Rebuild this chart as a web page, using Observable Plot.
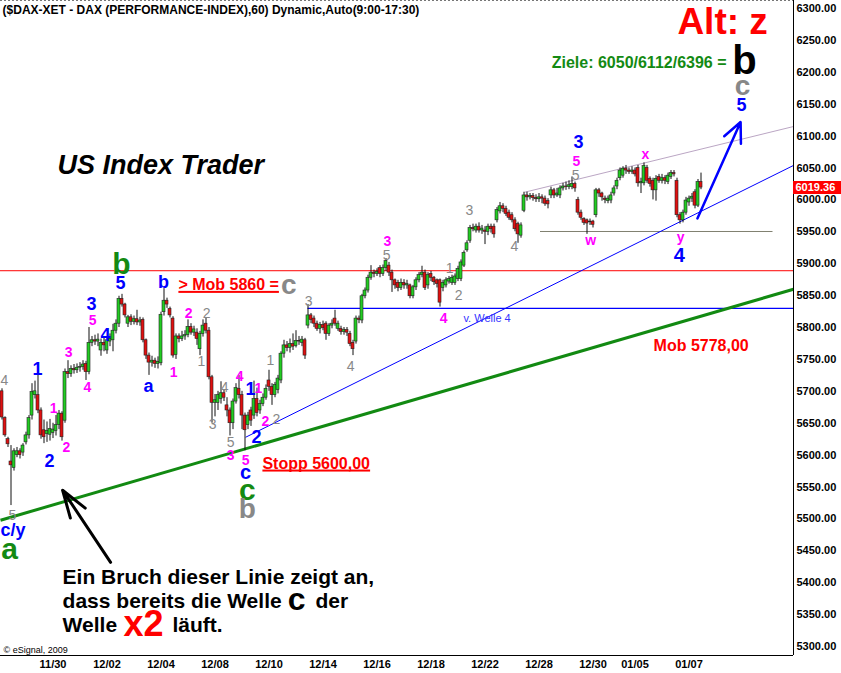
<!DOCTYPE html>
<html><head><meta charset="utf-8">
<script src="https://cdn.jsdelivr.net/npm/d3@7"></script>
<script src="https://cdn.jsdelivr.net/npm/@observablehq/plot@0.6"></script>
<style>
html,body{margin:0;padding:0;background:#fff;}
#chart svg{display:block;}
</style></head><body><div id="chart"></div>
<script>
// ---------- DATA ----------
const dayNames = ["11/26","11/27","11/30","12/01","12/02","12/03","12/04","12/07","12/08","12/09","12/10","12/11","12/14","12/15","12/16","12/17","12/18","12/21","12/22","12/23","12/28","12/29","12/30","01/04","01/05","01/06","01/07"];
const dayBarCounts = [8,9,9,9,9,9,9,9,9,9,9,9,9,9,9,9,9,9,9,9,9,9,5,9,9,9,5];
const tickDays = ["11/30","12/02","12/04","12/08","12/10","12/14","12/16","12/18","12/22","12/28","12/30","01/05","01/07"];
const yTicks = [5300,5350,5400,5450,5500,5550,5600,5650,5700,5750,5800,5850,5900,5950,6000,6050,6100,6150,6200,6250,6300];

const open = [
5700,5658,5625,5590,5580,5600,5606,5604,5620,5631,
5662,5694,5694,5670,5639,5633,5632,5635,5638,5647,
5665,5654,5730,5727,5735,5733,5737,5738,5743,5730,
5776,5780,5778,5764,5776,5764,5778,5780,5795,5806,
5845,5836,5806,5816,5809,5813,5808,5812,5780,5756,
5745,5748,5743,5744,5824,5842,5829,5814,5757,5786,
5782,5786,5788,5801,5792,5792,5766,5790,5806,5795,
5722,5682,5682,5688,5697,5678,5670,5650,5684,5704,
5694,5662,5647,5670,5662,5688,5670,5680,5690,5717,
5707,5694,5702,5717,5759,5772,5768,5774,5771,5779,
5776,5780,5803,5819,5814,5806,5798,5804,5806,5790,
5803,5814,5798,5798,5793,5796,5790,5776,5778,5814,
5811,5849,5858,5878,5886,5884,5893,5884,5893,5897,
5886,5874,5870,5862,5870,5866,5866,5849,5863,5874,
5882,5886,5866,5884,5878,5874,5874,5862,5866,5872,
5870,5870,5876,5876,5897,5921,5936,5956,5952,5958,
5952,5952,5950,5958,5958,5968,5982,5990,5986,5980,
5976,5968,5962,5944,5983,6007,6004,6006,6003,6001,
6004,6002,5998,6007,6015,6007,6007,6018,6021,6020,
6020,6025,6000,5980,5970,5968,5966,5966,5976,6015,
6010,6002,5998,5999,6010,6021,6034,6038,6049,6046,
6044,6046,6050,6026,6026,6050,6033,6030,6015,6036,
6030,6034,6028,6036,6042,6030,5976,5968,5980,5996,
6002,6012,5991,6028];
const high = [
5704,5660,5628,5615,5610,5612,5610,5618,5636,5662,
5712,5716,5727,5674,5655,5652,5656,5650,5662,5670,
5668,5735,5748,5740,5742,5743,5745,5748,5747,5800,
5786,5788,5790,5782,5786,5784,5790,5805,5812,5849,
5852,5838,5819,5820,5818,5827,5816,5815,5782,5760,
5755,5752,5754,5824,5861,5846,5832,5817,5790,5790,
5794,5795,5812,5806,5802,5798,5794,5812,5815,5800,
5725,5695,5700,5715,5702,5690,5674,5688,5712,5725,
5700,5666,5667,5675,5716,5705,5686,5696,5710,5733,
5712,5714,5725,5762,5780,5778,5782,5790,5795,5786,
5786,5783,5836,5822,5818,5810,5808,5810,5809,5806,
5812,5827,5810,5802,5800,5800,5794,5780,5818,5818,
5852,5862,5882,5897,5890,5892,5897,5898,5908,5902,
5890,5876,5874,5876,5875,5874,5868,5866,5878,5886,
5896,5890,5886,5888,5880,5876,5876,5874,5878,5880,
5882,5884,5896,5906,5920,5936,5960,5962,5962,5964,
5960,5958,5962,5962,5962,5988,5996,5994,5990,5984,
5980,5972,5965,5964,6012,6012,6010,6010,6008,6010,
6008,6006,6002,6020,6018,6018,6022,6026,6028,6030,
6036,6028,6004,5984,5972,5970,5970,5968,6018,6018,
6012,6006,6006,6012,6022,6034,6050,6052,6054,6050,
6052,6050,6054,6034,6058,6054,6036,6034,6038,6040,
6040,6038,6042,6046,6046,6034,5980,5984,6004,6006,
6010,6016,6032,6042];
const low = [
5655,5628,5612,5521,5575,5596,5594,5598,5616,5625,
5655,5688,5665,5625,5618,5620,5622,5626,5630,5640,
5622,5650,5720,5722,5727,5728,5730,5733,5717,5726,
5770,5772,5770,5755,5762,5758,5770,5762,5790,5800,
5832,5815,5800,5803,5804,5803,5802,5776,5750,5725,
5738,5736,5735,5740,5818,5830,5815,5752,5750,5776,
5778,5780,5784,5788,5786,5772,5756,5785,5790,5718,
5650,5660,5670,5680,5684,5660,5630,5640,5680,5688,
5640,5607,5640,5645,5656,5660,5664,5676,5686,5700,
5678,5690,5696,5712,5752,5762,5760,5764,5768,5772,
5770,5750,5798,5806,5800,5794,5790,5795,5780,5786,
5798,5802,5794,5788,5788,5786,5770,5756,5774,5806,
5806,5845,5854,5874,5878,5880,5878,5880,5888,5880,
5855,5860,5856,5858,5860,5860,5845,5845,5858,5870,
5878,5858,5860,5872,5866,5862,5832,5856,5862,5868,
5866,5866,5872,5872,5894,5918,5932,5950,5948,5948,
5946,5930,5944,5948,5940,5964,5978,5980,5974,5968,
5964,5950,5932,5940,5980,5998,6000,5998,5996,5996,
5994,5990,5986,6002,6002,6004,6002,6014,6015,6016,
6016,6012,5976,5968,5960,5946,5960,5956,5972,6004,
5998,5994,5994,5994,6006,6016,6030,6034,6040,6040,
6040,6036,6020,6010,6022,6026,6020,6000,5998,6026,
6025,6024,6024,6032,6036,5972,5962,5964,5976,5990,
5996,5986,5988,6016];
const close = [
5659,5631,5617,5584,5606,5606,5600,5615,5631,5658,
5699,5700,5670,5631,5628,5638,5641,5640,5647,5665,
5628,5730,5727,5735,5733,5737,5738,5742,5730,5776,
5780,5778,5781,5776,5772,5780,5782,5795,5806,5845,
5836,5819,5816,5809,5813,5808,5811,5780,5756,5745,
5748,5743,5746,5820,5842,5836,5819,5756,5786,5782,
5786,5788,5801,5792,5797,5782,5790,5803,5795,5722,
5682,5686,5694,5697,5690,5670,5650,5684,5705,5694,
5662,5639,5662,5654,5688,5666,5680,5690,5704,5707,
5694,5710,5720,5759,5772,5768,5774,5770,5779,5778,
5781,5756,5819,5812,5806,5798,5804,5799,5790,5803,
5806,5806,5806,5793,5796,5792,5774,5766,5814,5812,
5849,5858,5878,5886,5884,5887,5884,5893,5904,5886,
5874,5866,5862,5870,5866,5868,5849,5863,5874,5882,
5886,5862,5882,5878,5871,5868,5839,5870,5874,5876,
5878,5880,5892,5902,5917,5932,5956,5954,5958,5952,
5955,5950,5958,5954,5946,5984,5990,5986,5978,5972,
5968,5954,5946,5960,6007,6004,6006,6003,6001,6004,
6002,5994,5993,6015,6007,6010,6018,6021,6020,6023,
6025,6018,5980,5972,5964,5963,5965,5961,6015,6010,
6004,6000,6002,6007,6018,6030,6046,6049,6046,6044,
6046,6040,6026,6028,6053,6030,6025,6015,6033,6030,
6034,6030,6038,6042,6040,5976,5968,5980,5999,6002,
6005,5991,6028,6019.36];

// wave counts: [text, bar, price, degree]
const waveLabels = [
["1",11.8,5734,"minute"],["2",15.8,5590,"minute"],["3",29.8,5836,"minute"],["4",34.5,5788,"minute"],
["5",39.5,5869,"minute"],["a",48.8,5708,"minute"],["b",53.8,5871,"minute"],["1",82.8,5704,"minute"],
["2",84.8,5628,"minute"],["3",192.2,6090,"minute"],["5",246.5,6148,"minute"],
["1",17.2,5673,"minuette"],["2",21.5,5612,"minuette"],["3",22.2,5761,"minuette"],["4",28.5,5706,"minuette"],
["5",30.2,5811,"minuette"],["1",57.2,5730,"minuette"],["2",62.2,5822,"minuette"],["4",79.2,5723,"minuette"],
["1",85.5,5704,"minuette"],["2",87.8,5653,"minuette"],["3",76.2,5600,"minuette"],["5",81.2,5592,"minuette"],
["3",128.5,5935,"minuette"],["4",147.2,5814,"minuette"],["5",191.5,6060,"minuette"],["w",196.2,5936,"minuette"],
["x",214.5,6071,"minuette"],["y",226.2,5941,"minuette"],
["5",3.5,5506,"sub"],["1",66.5,5747,"sub"],["2",68.2,5822,"sub"],["3",70.2,5648,"sub"],
["4",74.2,5706,"sub"],["5",76.2,5620,"sub"],["1",89.5,5748,"sub"],["2",91.5,5656,"sub"],["3",102.2,5841,"sub"],
["4",116.2,5739,"sub"],["5",128.2,5913,"sub"],["1",149.2,5893,"sub"],["2",152.2,5850,"sub"],["3",155.8,5983,"sub"],
["4",170.8,5927,"sub"],["5",191.2,6038,"sub"],
["b",39.8,5899,"minor"],["c",81.8,5545,"minor"],["a",2.5,5452,"minor"],
["b",81.8,5516,"grayBig"],["c",95.6,5866,"grayBig"]
];
const edgeLabels = [["c/y",-0.5,5482,"minute"],["4",-0.5,5717,"sub"]];
const bigBlue = [["4",225.8,5913],["c",81.2,5573]];
const targetLabels = [["b",247.5,6218,"black"],["c",246.8,6178,"gray"]];

// trendlines: [name, bar1, price1, bar2, price2]
const trendLines = [
["support",-0.5,5498,263.83,5860],
["channel",81.2,5628,263.83,6054],
["upper",174.2,6012,263.83,6115]
];
// horizontal levels: [name, price, fromBar, toBar]
const levels = [
["mob",5889,-0.5,263.83],
["welle4",5830,102,263.83],
["wy",5950.5,179.5,257]
];
// arrows: [bar1, price1, bar2, price2]
const blueArrow = [[231.8,5971,246.2,6122]];
const blackArrow = [[36.2,5432,20.2,5545]];
const lastPrice = 6019.36;

// annotation texts [text, bar, price]
const notesTitle = [["($DAX-XET - DAX (PERFORMANCE-INDEX),60) Dynamic,Auto(9:00-17:30)",0.2,6298]];
const notesAlt = [["Alt: z",240.2,6278]];
const notesZiele = [["Ziele: 6050/6112/6396 =",241.5,6214]];
const notesBrand = [["US Index Trader",18.5,6054]];
const notesRedUnder = [["> Mob 5860 =",58.8,5867],["Stopp 5600,00",86.8,5587]];
const notesMob = [["Mob 5778,00",217.2,5772]];
const notesWelle = [["v. Welle 4",153.8,5814]];
const notesBottom = [["Ein Bruch dieser Linie zeigt an,",20.2,5408],["dass bereits die Welle",20.2,5371],["der",104.5,5371],["Welle",20.2,5333],["läuft.",56.8,5333]];
const notesBigC = [["c",98.2,5373]];
const notesX2 = [["x2",47.2,5334]];
const notesCopy = [["© eSignal, 2009",0.5,5295]];

// ---------- BUILD ----------
const FONT = "Arial, 'Liberation Sans', sans-serif";
const X0 = -0.5, X1 = 263.83, Y0 = 5286, Y1 = 6312.5;
const idx = d3.range(close.length);
const barDay = [];
dayNames.forEach((d, k) => { for (let j = 0; j < dayBarCounts[k]; j++) barDay.push(j === 0 ? d : null); });
const tickBars = idx.filter(i => barDay[i] && tickDays.includes(barDay[i]));

const degree = {
  minute: {fill: "#0000ff", fontSize: 18, fontWeight: "bold"},
  minuette: {fill: "#ff00ff", fontSize: 14, fontWeight: "bold"},
  sub: {fill: "#888888", fontSize: 14, fontWeight: "normal"},
  minor: {fill: "#138a13", fontSize: 30, fontWeight: "bold"},
  grayBig: {fill: "#888888", fontSize: 28, fontWeight: "bold"}
};
const lineStyle = {
  support: {stroke: "#128a12", strokeWidth: 3},
  channel: {stroke: "#0000ff", strokeWidth: 1},
  upper: {stroke: "#bba6c4", strokeWidth: 1},
  mob: {stroke: "#ff0000", strokeWidth: 1},
  welle4: {stroke: "#0000ff", strokeWidth: 1.2},
  wy: {stroke: "#808070", strokeWidth: 1}
};
const T = {x: d => d[1], y: d => d[2], text: d => d[0], fontFamily: FONT};

const marks = [
  Plot.ruleY([Y1], {stroke: "#777", strokeDasharray: "2,2"}),
  ...levels.map(l => Plot.ruleY([l], {y: d => d[1], x1: d => d[2], x2: d => d[3], ...lineStyle[l[0]]})),
  ...trendLines.map(t => Plot.link([t], {x1: d => d[1], y1: d => d[2], x2: d => d[3], y2: d => d[4], ...lineStyle[t[0]]})),
  Plot.ruleX(idx, {x: i => i, y1: i => low[i], y2: i => high[i], stroke: "#111", strokeWidth: 1}),
  Plot.rect(idx, {x1: i => i - 0.5, x2: i => i + 0.5, y1: i => open[i], y2: i => close[i],
    fill: i => close[i] >= open[i] ? "#22cc22" : "#e01010", stroke: "#222", strokeWidth: 0.6}),
  Plot.ruleX([X1], {stroke: "#000", strokeWidth: 1}),
  Plot.ruleY([Y0], {stroke: "#000", strokeWidth: 1}),
  ...Object.keys(degree).map(k => Plot.text(waveLabels.filter(d => d[3] === k), {...T, ...degree[k]})),
  ...edgeLabels.map(e => Plot.text([e], {...T, textAnchor: "start", ...degree[e[3]]})),
  Plot.text(bigBlue, {...T, fill: "#0000ff", fontSize: 20, fontWeight: "bold"}),
  Plot.text(targetLabels.filter(d => d[3] === "black"), {...T, fill: "#000", fontSize: 40, fontWeight: "bold"}),
  Plot.text(targetLabels.filter(d => d[3] === "gray"), {...T, fill: "#888", fontSize: 28, fontWeight: "bold"}),
  Plot.arrow(blueArrow, {x1: d => d[0], y1: d => d[1], x2: d => d[2], y2: d => d[3], stroke: "#0000ff", strokeWidth: 2.5, headLength: 13, headAngle: 50}),
  Plot.arrow(blackArrow, {x1: d => d[0], y1: d => d[1], x2: d => d[2], y2: d => d[3], stroke: "#000", strokeWidth: 3, headLength: 16, headAngle: 36}),
  Plot.text(notesTitle, {...T, textAnchor: "start", fill: "#000", fontSize: 12, fontWeight: "bold"}),
  Plot.text(notesAlt, {...T, fill: "#ff0000", fontSize: 37, fontWeight: "bold"}),
  Plot.text(notesZiele, {...T, textAnchor: "end", fill: "#138a13", fontSize: 16, fontWeight: "bold"}),
  Plot.text(notesBrand, {...T, textAnchor: "start", fill: "#000", fontSize: 27, fontWeight: "bold", fontStyle: "italic"}),
  Plot.text(notesRedUnder, {...T, textAnchor: "start", fill: "#ff0000", fontSize: 16, fontWeight: "bold"}),
  Plot.text(notesMob, {...T, textAnchor: "start", fill: "#ff0000", fontSize: 16, fontWeight: "bold"}),
  Plot.text(notesWelle, {...T, textAnchor: "start", fill: "#3333ff", fontSize: 11, fontWeight: "normal"}),
  Plot.text(notesBottom, {...T, textAnchor: "start", fill: "#000", fontSize: 21, fontWeight: "bold"}),
  Plot.text(notesBigC, {...T, fill: "#000", fontSize: 32, fontWeight: "bold"}),
  Plot.text(notesX2, {...T, fill: "#ff0000", fontSize: 36, fontWeight: "bold"}),
  Plot.text(notesCopy, {...T, textAnchor: "start", fill: "#000", fontSize: 9, fontWeight: "normal"}),
  Plot.ruleY([lastPrice], {x1: X1, x2: X1 + 16, stroke: "#ff0000", strokeWidth: 13}),
  Plot.text([lastPrice], {x: X1, y: d => d, text: d => d.toFixed(2), dx: 2, textAnchor: "start", fill: "#fff", fontSize: 11, fontWeight: "bold", fontFamily: FONT})
];

const chart = Plot.plot({
  width: 841, height: 673,
  marginLeft: 0, marginRight: 48, marginTop: 0, marginBottom: 18,
  style: {fontFamily: FONT, fontSize: "11px", fontWeight: "bold", background: "#fff", color: "#000", overflow: "visible"},
  x: {domain: [X0, X1], axis: "bottom", ticks: tickBars, tickSize: 0, tickPadding: 5, tickFormat: i => barDay[i], label: null},
  y: {domain: [Y0, Y1], axis: "right", ticks: yTicks, tickSize: 0, tickPadding: 3, tickFormat: d => d.toFixed(2), label: null},
  marks
});
document.getElementById("chart").appendChild(chart);

// underline decoration for the red "Mob" and "Stopp" notes
const underlined = new Set(notesRedUnder.map(d => d[0]));
d3.select(chart).selectAll("text").each(function () {
  if (!underlined.has(this.textContent)) return;
  const b = this.getBBox();
  const line = document.createElementNS("http://www.w3.org/2000/svg", "rect");
  line.setAttribute("x", b.x);
  line.setAttribute("y", b.y + b.height - 2);
  line.setAttribute("width", b.width);
  line.setAttribute("height", 2);
  line.setAttribute("fill", "#ff0000");
  const t = this.getAttribute("transform");
  if (t) line.setAttribute("transform", t);
  this.parentNode.appendChild(line);
});
</script></body></html>
